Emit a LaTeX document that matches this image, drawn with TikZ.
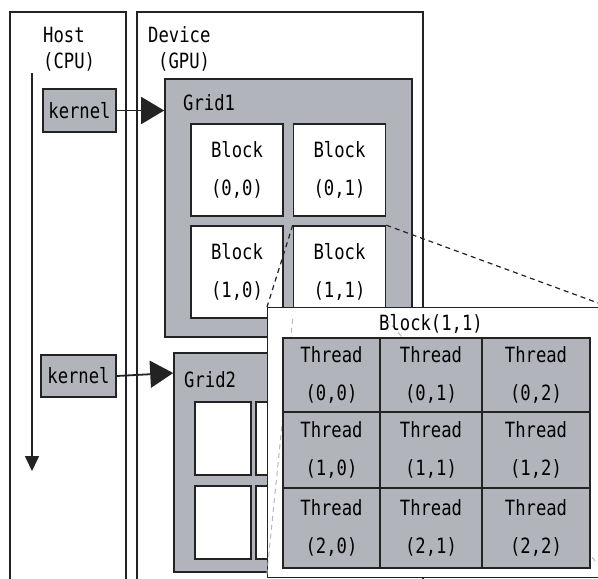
\documentclass[tikz,border=0pt]{standalone}
\usepackage{fontspec}
\setmainfont{DejaVu Sans Mono}[FakeStretch=0.82]
\usetikzlibrary{arrows.meta}
\definecolor{cellgray}{RGB}{178,180,187}
\definecolor{edge}{RGB}{35,35,35}
\definecolor{ghost}{RGB}{185,185,185}

\begin{document}
\begin{tikzpicture}[x=1pt,y=-1pt,
  font=\fontsize{21}{38}\selectfont,
  frame/.style={draw=edge, line width=1.1pt},
  txt/.style={inner sep=0pt, text=black},
  kbox/.style={draw=edge, fill=cellgray, line width=1.5pt, inner sep=0pt},
  gridbox/.style={draw=edge, fill=cellgray, line width=1.6pt, inner sep=0pt},
  blockbox/.style={draw=edge, fill=white, line width=1.6pt, inner sep=0pt, align=center},
  threadbox/.style={draw=edge, fill=cellgray, line width=1.5pt, inner sep=0pt, align=center},
  launch/.style={draw=edge, line width=1.8pt, -{Triangle[length=23pt,width=27pt]}},
  zoomline/.style={draw=edge, line width=1.2pt, dash pattern=on 5pt off 4pt},
  ghostline/.style={draw=ghost, line width=1pt, dash pattern=on 5pt off 4pt}
]
\useasboundingbox (0,0) rectangle (598,579);

% Host and Device columns (open at the bottom)
\draw[frame] (10,579) -- (10,12) -- (126,12) -- (126,579);
\draw[frame] (137,579) -- (137,12) -- (423,12) -- (423,579);
\node[txt, anchor=west] (host) at (43,35) {Host};
\node[txt, anchor=west] (cpu) at (43,62) {(CPU)};
\node[txt, anchor=west] (dev) at (148,35) {Device};
\node[txt, anchor=west] (gpu) at (158,62) {(GPU)};

% host timeline
\coordinate (tl0) at (32,73);
\coordinate (tl1) at (32,471);
\draw[draw=edge, line width=1.6pt, -{Triangle[length=15pt,width=14pt]}] (tl0) -- (tl1);

% kernel launches
\node[kbox, minimum width=73pt, minimum height=43pt] (k1) at (79.5,110.5) {kernel};
\node[kbox, minimum width=75pt, minimum height=42pt] (k2) at (78.5,376) {kernel};

% Grid1 with its 2x2 blocks
\node[gridbox, minimum width=247pt, minimum height=258pt] (g1) at (288.5,208) {};
\node[txt, anchor=west] (g1lbl) at (183,103) {Grid1};
\node[blockbox, minimum size=92pt] (b00) at (237,170) {Block\\(0,0)};
\node[blockbox, minimum size=92pt] (b01) at (339.5,170) {Block\\(0,1)};
\node[blockbox, minimum size=92pt] (b10) at (237,272) {Block\\(1,0)};
\node[blockbox, minimum size=92pt] (b11) at (339.5,272) {Block\\(1,1)};

% Grid2 with empty blocks
\node[gridbox, minimum width=238pt, minimum height=219pt] (g2) at (293,462.5) {};
\node[txt, anchor=west] (g2lbl) at (184,380) {Grid2};
\node[blockbox, minimum width=56pt, minimum height=73pt] (e00) at (223,438.5) {};
\node[blockbox, minimum width=56pt, minimum height=73pt] (e01) at (284,438.5) {};
\node[blockbox, minimum width=56pt, minimum height=73pt] (e10) at (223,522.5) {};
\node[blockbox, minimum width=56pt, minimum height=73pt] (e11) at (284,522.5) {};

\draw[launch] (k1.east) -- (k1.east -| g1.west);
\draw[launch] (k2.east) -- ([yshift=3pt]k2.east -| g2.west);

% enlarged view of Block(1,1)
\coordinate (ovnw) at (267,307);
\coordinate (ovne) at (609,307);
\draw[zoomline] (b11.north west) -- (ovnw);
\draw[zoomline] (b11.north east) -- (ovne);
\node[draw=edge, line width=1pt, fill=white, inner sep=0pt,
      minimum width=342pt, minimum height=270pt] (ov) at (438,442) {};
\draw[ghostline] (b11.south west) -- (ov.south west);
\draw[ghostline] (b11.south east) -- (ov.south east);
\node[txt] (ovtitle) at (431,324) {Block(1,1)};

\foreach \r/\ya/\yb in {0/338/412,1/412/488,2/488/568}{
  \foreach \c/\xa/\xb in {0/283/380,1/380/482,2/482/590}{
    \node[threadbox, minimum width={(\xb-\xa)*1pt}, minimum height={(\yb-\ya)*1pt}]
      (t\r\c) at ({(\xa+\xb)/2},{(\ya+\yb)/2}) {Thread\\(\r,\c)};
  }
}
\end{tikzpicture}
\end{document}
